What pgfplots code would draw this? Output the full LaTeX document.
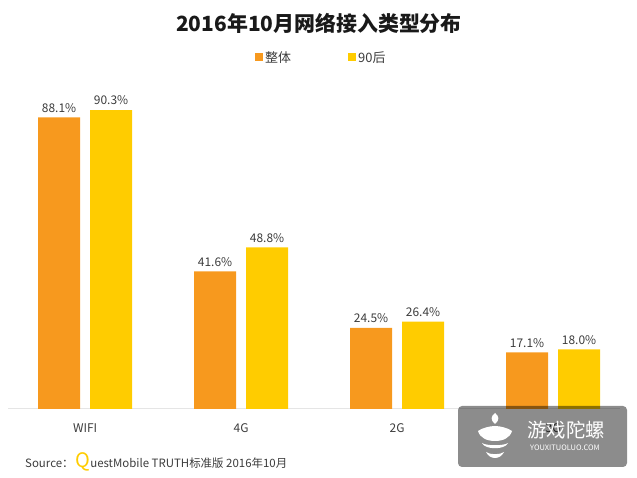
\documentclass[border=0pt]{standalone}
\usepackage{pgfplots}
\pgfplotsset{compat=1.18}
\usepackage{fontspec}
\setmainfont{Noto Sans CJK SC}
\definecolor{corange}{RGB}{247,153,30}
\definecolor{cyellow}{RGB}{255,204,0}
\definecolor{ctext}{RGB}{60,60,60}
\begin{document}
\begin{tikzpicture}[x=1bp,y=1bp]
\path[use as bounding box] (0,0) rectangle (637,478);
\begin{axis}[
  at={(8bp,69bp)}, anchor=south west,
  scale only axis, width=612bp, height=331bp,
  xmin=-0.494, xmax=3.429, ymin=0, ymax=100,
  ybar=10bp, bar width=42bp,
  hide y axis,
  axis x line*=bottom,
  x axis line style={-, draw=black!10, line width=1pt},
  xtick={0,1,2,3}, xticklabels={WIFI,4G,2G,3G},
  xtick style={draw=none},
  xticklabel style={font=\fontsize{12}{14}\selectfont, text=ctext, yshift=-7bp},
  /pgf/number format/assume math mode=true,
  nodes near coords={\pgfmathprintnumber[fixed,precision=1,fixed zerofill]{\pgfplotspointmeta}\%},
  every node near coord/.append style={font=\fontsize{12}{14}\selectfont, text=ctext, yshift=1.5bp},
  legend style={at={(axis description cs:0.512,1)}, anchor=south, yshift=10bp, draw=none, fill=none,
    legend columns=2, font=\fontsize{13}{15}\selectfont, text=ctext,
    /tikz/every even column/.append style={column sep=55bp}},
  legend image code/.code={\fill[#1,draw=none] (0bp,-3.5bp) rectangle (8bp,4.5bp);},
]
\addplot[fill=corange, draw=none] coordinates {(0,88.1) (1,41.6) (2,24.5) (3,17.1)};
\addplot[fill=cyellow, draw=none] coordinates {(0,90.3) (1,48.8) (2,26.4) (3,18.0)};
\legend{整体,90后}
\end{axis}
% title
\node[font=\fontsize{21}{24}\selectfont\bfseries, text=black!90] at (319,455) {2016年10月网络接入类型分布};
% source
\node[anchor=base west, inner sep=0, font=\fontsize{11.5}{13}\selectfont, text=ctext] at (25,10)
  {Source：\,{\fontsize{20}{22}\selectfont\color{cyellow}Q}uestMobile TRUTH标准版 2016年10月};
% watermark
\fill[black, fill opacity=0.45, rounded corners=4bp] (458,11) rectangle (627,72);
\node[anchor=west, inner sep=0, text=white, font=\fontsize{19.5}{22}\selectfont] at (527,48) {游戏陀螺};
\node[anchor=west, inner sep=0, text=white, font=\fontsize{7.5}{8}\selectfont] at (530,30) {YOUXITUOLUO.COM};
% logo
\fill[white] (495,65) .. controls (499,62) and (500,58) .. (495,54) .. controls (490,58) and (491,62) .. (495,65) -- cycle;
\fill[white] (478,47) .. controls (482,50) and (490,52) .. (495,52) .. controls (500,52) and (508,50) .. (512,47)
  .. controls (510,40) and (503,37) .. (495,37) .. controls (487,37) and (480,40) .. (478,47) -- cycle;
\fill[white] (482,35) .. controls (486,32) and (504,32) .. (508,35) .. controls (505,28) and (485,28) .. (482,35) -- cycle;
\fill[white] (486,26) .. controls (490,23) and (500,23) .. (504,26) .. controls (500,18) and (490,18) .. (486,26) -- cycle;
\end{tikzpicture}
\end{document}
